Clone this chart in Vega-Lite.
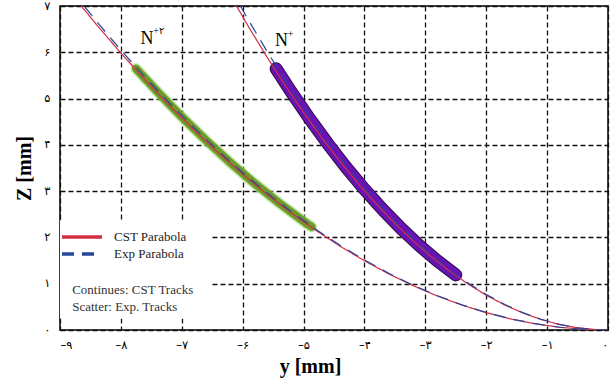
{
  "$schema": "https://vega.github.io/schema/vega-lite/v6.json",
  "width": 548,
  "height": 324,
  "autosize": {"type": "none"},
  "padding": {"left": 60, "top": 6, "right": 3, "bottom": 53},
  "background": "white",
  "config": {
    "view": {"stroke": "#000", "strokeWidth": 1.5},
    "axis": {
      "grid": true, "gridColor": "#111", "gridDash": [5, 3], "gridWidth": 1.3, "gridOpacity": 1,
      "ticks": false, "domain": false,
      "labelFont": "DejaVu Sans", "labelFontSize": 11.5, "labelColor": "#000",
      "titleFont": "Liberation Serif", "titleFontSize": 20, "titleFontWeight": "bold", "titleColor": "#000"
    }
  },
  "datasets": {
    "box": [{"y": -9, "y2": -6.52, "z": 0.25, "z2": 2.37}],
    "curves": [
      {"s": "CST Parabola", "k": "a", "y": -8.8, "z": 7.241}, {"s": "CST Parabola", "k": "a", "y": -8.4, "z": 6.597},
      {"s": "CST Parabola", "k": "a", "y": -8.0, "z": 5.984}, {"s": "CST Parabola", "k": "a", "y": -7.6, "z": 5.401},
      {"s": "CST Parabola", "k": "a", "y": -7.2, "z": 4.847}, {"s": "CST Parabola", "k": "a", "y": -6.8, "z": 4.323},
      {"s": "CST Parabola", "k": "a", "y": -6.4, "z": 3.830}, {"s": "CST Parabola", "k": "a", "y": -6.0, "z": 3.366},
      {"s": "CST Parabola", "k": "a", "y": -5.6, "z": 2.932}, {"s": "CST Parabola", "k": "a", "y": -5.2, "z": 2.528},
      {"s": "CST Parabola", "k": "a", "y": -4.8, "z": 2.154}, {"s": "CST Parabola", "k": "a", "y": -4.4, "z": 1.810},
      {"s": "CST Parabola", "k": "a", "y": -4.0, "z": 1.496}, {"s": "CST Parabola", "k": "a", "y": -3.6, "z": 1.212},
      {"s": "CST Parabola", "k": "a", "y": -3.2, "z": 0.957}, {"s": "CST Parabola", "k": "a", "y": -2.8, "z": 0.733},
      {"s": "CST Parabola", "k": "a", "y": -2.4, "z": 0.539}, {"s": "CST Parabola", "k": "a", "y": -2.0, "z": 0.374},
      {"s": "CST Parabola", "k": "a", "y": -1.6, "z": 0.239}, {"s": "CST Parabola", "k": "a", "y": -1.2, "z": 0.135},
      {"s": "CST Parabola", "k": "a", "y": -0.8, "z": 0.060}, {"s": "CST Parabola", "k": "a", "y": -0.4, "z": 0.015},
      {"s": "CST Parabola", "k": "a", "y": 0, "z": 0},
      {"s": "Exp Parabola", "k": "a", "y": -8.8, "z": 7.318}, {"s": "Exp Parabola", "k": "a", "y": -8.4, "z": 6.668},
      {"s": "Exp Parabola", "k": "a", "y": -8.0, "z": 6.048}, {"s": "Exp Parabola", "k": "a", "y": -7.6, "z": 5.458},
      {"s": "Exp Parabola", "k": "a", "y": -7.2, "z": 4.899}, {"s": "Exp Parabola", "k": "a", "y": -6.8, "z": 4.370},
      {"s": "Exp Parabola", "k": "a", "y": -6.4, "z": 3.871}, {"s": "Exp Parabola", "k": "a", "y": -6.0, "z": 3.402},
      {"s": "Exp Parabola", "k": "a", "y": -5.6, "z": 2.964}, {"s": "Exp Parabola", "k": "a", "y": -5.2, "z": 2.555},
      {"s": "Exp Parabola", "k": "a", "y": -4.8, "z": 2.177}, {"s": "Exp Parabola", "k": "a", "y": -4.4, "z": 1.830},
      {"s": "Exp Parabola", "k": "a", "y": -4.0, "z": 1.512}, {"s": "Exp Parabola", "k": "a", "y": -3.6, "z": 1.225},
      {"s": "Exp Parabola", "k": "a", "y": -3.2, "z": 0.968}, {"s": "Exp Parabola", "k": "a", "y": -2.8, "z": 0.741},
      {"s": "Exp Parabola", "k": "a", "y": -2.4, "z": 0.544}, {"s": "Exp Parabola", "k": "a", "y": -2.0, "z": 0.378},
      {"s": "Exp Parabola", "k": "a", "y": -1.6, "z": 0.242}, {"s": "Exp Parabola", "k": "a", "y": -1.2, "z": 0.136},
      {"s": "Exp Parabola", "k": "a", "y": -0.8, "z": 0.060}, {"s": "Exp Parabola", "k": "a", "y": -0.4, "z": 0.015},
      {"s": "Exp Parabola", "k": "a", "y": 0, "z": 0},
      {"s": "CST Parabola", "k": "b", "y": -6.2, "z": 7.227}, {"s": "CST Parabola", "k": "b", "y": -5.9, "z": 6.544},
      {"s": "CST Parabola", "k": "b", "y": -5.6, "z": 5.896}, {"s": "CST Parabola", "k": "b", "y": -5.3, "z": 5.281},
      {"s": "CST Parabola", "k": "b", "y": -5.0, "z": 4.700}, {"s": "CST Parabola", "k": "b", "y": -4.7, "z": 4.153},
      {"s": "CST Parabola", "k": "b", "y": -4.4, "z": 3.640}, {"s": "CST Parabola", "k": "b", "y": -4.1, "z": 3.160},
      {"s": "CST Parabola", "k": "b", "y": -3.8, "z": 2.715}, {"s": "CST Parabola", "k": "b", "y": -3.5, "z": 2.303},
      {"s": "CST Parabola", "k": "b", "y": -3.2, "z": 1.925}, {"s": "CST Parabola", "k": "b", "y": -2.9, "z": 1.581},
      {"s": "CST Parabola", "k": "b", "y": -2.6, "z": 1.271}, {"s": "CST Parabola", "k": "b", "y": -2.3, "z": 0.995},
      {"s": "CST Parabola", "k": "b", "y": -2.0, "z": 0.752}, {"s": "CST Parabola", "k": "b", "y": -1.7, "z": 0.543},
      {"s": "CST Parabola", "k": "b", "y": -1.4, "z": 0.368}, {"s": "CST Parabola", "k": "b", "y": -1.1, "z": 0.227},
      {"s": "CST Parabola", "k": "b", "y": -0.8, "z": 0.120}, {"s": "CST Parabola", "k": "b", "y": -0.5, "z": 0.047},
      {"s": "CST Parabola", "k": "b", "y": -0.2, "z": 0.008}, {"s": "CST Parabola", "k": "b", "y": 0, "z": 0},
      {"s": "Exp Parabola", "k": "b", "y": -6.2, "z": 7.380}, {"s": "Exp Parabola", "k": "b", "y": -5.9, "z": 6.684},
      {"s": "Exp Parabola", "k": "b", "y": -5.6, "z": 6.021}, {"s": "Exp Parabola", "k": "b", "y": -5.3, "z": 5.393},
      {"s": "Exp Parabola", "k": "b", "y": -5.0, "z": 4.800}, {"s": "Exp Parabola", "k": "b", "y": -4.7, "z": 4.241},
      {"s": "Exp Parabola", "k": "b", "y": -4.4, "z": 3.717}, {"s": "Exp Parabola", "k": "b", "y": -4.1, "z": 3.228},
      {"s": "Exp Parabola", "k": "b", "y": -3.8, "z": 2.772}, {"s": "Exp Parabola", "k": "b", "y": -3.5, "z": 2.352},
      {"s": "Exp Parabola", "k": "b", "y": -3.2, "z": 1.966}, {"s": "Exp Parabola", "k": "b", "y": -2.9, "z": 1.615},
      {"s": "Exp Parabola", "k": "b", "y": -2.6, "z": 1.298}, {"s": "Exp Parabola", "k": "b", "y": -2.3, "z": 1.016},
      {"s": "Exp Parabola", "k": "b", "y": -2.0, "z": 0.768}, {"s": "Exp Parabola", "k": "b", "y": -1.7, "z": 0.555},
      {"s": "Exp Parabola", "k": "b", "y": -1.4, "z": 0.376}, {"s": "Exp Parabola", "k": "b", "y": -1.1, "z": 0.232},
      {"s": "Exp Parabola", "k": "b", "y": -0.8, "z": 0.123}, {"s": "Exp Parabola", "k": "b", "y": -0.5, "z": 0.048},
      {"s": "Exp Parabola", "k": "b", "y": -0.2, "z": 0.008}, {"s": "Exp Parabola", "k": "b", "y": 0, "z": 0}
    ],
    "green": [
      {"y": -7.75, "z": 5.646}, {"y": -7.4, "z": 5.147}, {"y": -7.0, "z": 4.606}, {"y": -6.6, "z": 4.095},
      {"y": -6.2, "z": 3.613}, {"y": -5.8, "z": 3.162}, {"y": -5.4, "z": 2.741}, {"y": -5.0, "z": 2.350},
      {"y": -4.87, "z": 2.23}
    ],
    "purple": [
      {"y": -5.45, "z": 5.643}, {"y": -5.2, "z": 5.138}, {"y": -4.9, "z": 4.562}, {"y": -4.6, "z": 4.020},
      {"y": -4.3, "z": 3.513}, {"y": -4.0, "z": 3.04}, {"y": -3.7, "z": 2.601}, {"y": -3.4, "z": 2.196},
      {"y": -3.1, "z": 1.826}, {"y": -2.8, "z": 1.490}, {"y": -2.5, "z": 1.19}
    ],
    "notes": [
      {"t": "Continues: CST Tracks", "y": -8.8, "z": 0.864},
      {"t": "Scatter: Exp. Tracks", "y": -8.8, "z": 0.497}
    ],
    "ions": [
      {"t": "N", "y": -7.571, "z": 6.285},
      {"t": "N", "y": -5.363, "z": 6.242}
    ],
    "sups": [
      {"t": "+۲", "y": -7.47, "z": 6.46},
      {"t": "+", "y": -5.26, "z": 6.40}
    ]
  },
  "encoding": {
    "x": {
      "field": "y", "type": "quantitative",
      "scale": {"domain": [-9, 0], "nice": false},
      "axis": {
        "values": [-9, -8, -7, -6, -5, -4, -3, -2, -1, 0],
        "labelExpr": "(datum.value < 0 ? '–' : '') + substring('۰۱۲۳۴۵۶۷۸۹', abs(datum.value), abs(datum.value) + 1)",
        "labelPadding": 9, "title": "y [mm]", "titlePadding": 6, "titleX": 250
      }
    },
    "y": {
      "field": "z", "type": "quantitative",
      "scale": {"domain": [0, 7], "nice": false},
      "axis": {
        "values": [0, 1, 2, 3, 4, 5, 6, 7],
        "labelExpr": "substring('۰۱۲۳۴۵۶۷۸۹', datum.value, datum.value + 1)",
        "labelPadding": 10, "title": "Z [mm]", "titlePadding": 9
      }
    }
  },
  "layer": [
    {
      "data": {"name": "box"},
      "mark": {"type": "rect", "fill": "white", "stroke": null},
      "encoding": {"x2": {"field": "y2"}, "y2": {"field": "z2"}}
    },
    {
      "data": {"name": "green"},
      "mark": {"type": "line", "stroke": "#9bd872", "strokeWidth": 11, "strokeCap": "round", "opacity": 0.65, "clip": true}
    },
    {
      "data": {"name": "green"},
      "mark": {"type": "line", "stroke": "#6e9a2a", "strokeWidth": 8, "strokeCap": "round", "clip": true}
    },
    {
      "data": {"name": "purple"},
      "mark": {"type": "line", "stroke": "#2e0a50", "strokeWidth": 13, "strokeCap": "round", "clip": true}
    },
    {
      "data": {"name": "purple"},
      "mark": {"type": "line", "stroke": "#6814b4", "strokeWidth": 11, "strokeCap": "round", "clip": true}
    },
    {
      "data": {"name": "curves"},
      "mark": {"type": "line", "strokeWidth": 1.2, "clip": true},
      "encoding": {
        "detail": {"field": "k"},
        "color": {
          "field": "s", "type": "nominal",
          "scale": {"domain": ["CST Parabola", "Exp Parabola"], "range": ["#d42c44", "#27479c"]},
          "legend": {
            "orient": "none", "legendX": 15, "legendY": 224, "title": null,
            "labelFont": "Liberation Serif", "labelFontSize": 13, "labelColor": "#222",
            "symbolType": "M-4,0H4", "symbolSize": 100, "symbolStrokeWidth": 3.5,
            "rowPadding": 3, "labelOffset": 25, "padding": 0
          }
        },
        "strokeDash": {
          "field": "s", "type": "nominal",
          "scale": {"domain": ["CST Parabola", "Exp Parabola"], "range": [[1, 0], [12, 8]]},
          "legend": {
            "orient": "none", "legendX": 15, "legendY": 224, "title": null,
            "labelFont": "Liberation Serif", "labelFontSize": 13, "labelColor": "#222",
            "symbolType": "M-4,0H4", "symbolSize": 100, "symbolStrokeWidth": 3.5,
            "rowPadding": 3, "labelOffset": 25, "padding": 0
          }
        }
      }
    },
    {
      "data": {"name": "notes"},
      "mark": {"type": "text", "align": "left", "baseline": "middle", "font": "Liberation Serif", "fontSize": 13, "fill": "#333"},
      "encoding": {"text": {"field": "t"}}
    },
    {
      "data": {"name": "ions"},
      "mark": {"type": "text", "align": "center", "baseline": "middle", "font": "Liberation Serif", "fontSize": 18, "fill": "#000"},
      "encoding": {"text": {"field": "t"}}
    },
    {
      "data": {"name": "sups"},
      "mark": {"type": "text", "align": "left", "baseline": "middle", "font": "Liberation Serif", "fontSize": 10, "fill": "#000"},
      "encoding": {"text": {"field": "t"}}
    }
  ]
}
